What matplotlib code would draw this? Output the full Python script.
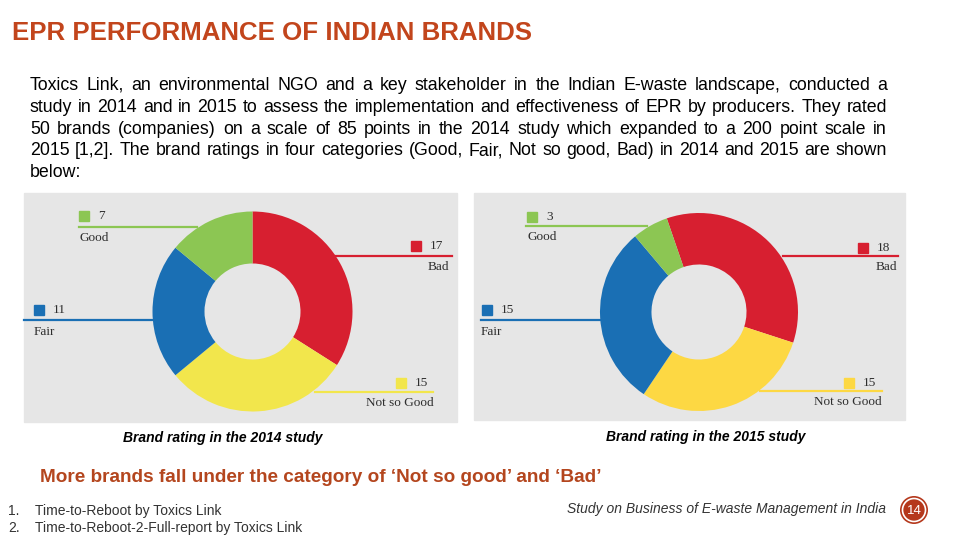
import numpy as np
import matplotlib
matplotlib.use("Agg")
import matplotlib.pyplot as plt
from matplotlib.patches import Rectangle, Circle
from matplotlib.font_manager import FontProperties

# data
categories = ["Bad", "Not so Good", "Fair", "Good"]
ratings_2014 = [17, 15, 11, 7]
ratings_2015 = [18, 15, 15, 3]
colors_2014 = ["#d71f30", "#f2e64c", "#1a6fb4", "#8cc653"]
colors_2015 = ["#d71f30", "#fdd843", "#1a6fb4", "#8cc653"]

title = "EPR PERFORMANCE OF INDIAN BRANDS"
para_lines = [
    "Toxics Link, an environmental NGO and a key stakeholder in the Indian E-waste landscape, conducted a",
    "study in 2014 and in 2015 to assess the implementation and effectiveness of EPR by producers. They rated",
    "50 brands (companies) on a scale of 85 points in the 2014 study which expanded to a 200 point scale in",
    "2015 [1,2]. The brand ratings in four categories (Good, Fair, Not so good, Bad) in 2014 and 2015 are shown",
    "below:",
]
captions = ["Brand rating in the 2014 study", "Brand rating in the 2015 study"]
conclusion = "More brands fall under the category of \u2018Not so good\u2019 and \u2018Bad\u2019"
refs = ["Time-to-Reboot by Toxics Link", "Time-to-Reboot-2-Full-report by Toxics Link"]
footer = "Study on Business of E-waste Management in India"
page_no = "14"

TITLE_C = "#c2451c"
SANS = "Liberation Sans"
SERIF = "Liberation Serif"

fig = plt.figure(figsize=(9.6, 5.4), dpi=100)
fig.patch.set_facecolor("white")
ax = fig.add_axes([0, 0, 1, 1])
ax.set_xlim(0, 960)
ax.set_ylim(540, 0)
ax.axis("off")

ax.text(12, 33.5, title, fontsize=18.6, color=TITLE_C, family=SANS,
        weight="bold", va="center", ha="left")

# justified paragraph
renderer = fig.canvas.get_renderer()
fp = FontProperties(family=SANS, size=12.8)
def width_px(s):
    w, h, d = renderer.get_text_width_height_descent(s, fp, ismath=False)
    return w
x0, x1 = 30, 887
for i, line in enumerate(para_lines):
    y = 85.5 + i * 21.8
    words = line.split(" ")
    if i == len(para_lines) - 1:
        ax.text(x0, y, line, fontproperties=fp, va="center", ha="left")
        continue
    ws = [width_px(w) for w in words]
    gap = (x1 - x0 - sum(ws)) / (len(words) - 1)
    x = x0
    for w, wd in zip(words, ws):
        ax.text(x, y, w, fontproperties=fp, va="center", ha="left")
        x += wd + gap

# grey panels
ax.add_patch(Rectangle((24, 193), 433, 229, color="#e6e6e6", zorder=0))
ax.add_patch(Rectangle((474, 193), 431, 227, color="#e6e6e6", zorder=0))

def donut(cx, cy, r, vals, cols, start):
    a = fig.add_axes([(cx - r) / 960, (540 - cy - r) / 540, 2 * r / 960, 2 * r / 540])
    a.pie(vals, colors=cols, startangle=start, counterclock=False,
          wedgeprops=dict(width=0.52, linewidth=0))
    a.set_xlim(-1, 1)
    a.set_ylim(-1, 1)
    a.axis("off")

donut(252.5, 311.5, 100, ratings_2014, colors_2014, 90)
donut(699, 312, 99, ratings_2015, colors_2015, 109)

# label layout: (square x, square y, line y, line x0, line x1, label x, label y, ha)
layout_2014 = {
    "Good": (79, 211, 226.5, 79, 197, 80, 238, "left"),
    "Bad": (411, 241, 255.5, 335, 452, 449, 267, "right"),
    "Fair": (34, 305, 320, 24, 153, 34, 332, "left"),
    "Not so Good": (396, 378, 391.5, 315, 433, 434, 403, "right"),
}
layout_2015 = {
    "Good": (527, 212, 226, 526, 647, 527, 237, "left"),
    "Bad": (858, 243, 256, 783, 898, 897, 267, "right"),
    "Fair": (482, 305, 320, 481, 600, 481, 332, "left"),
    "Not so Good": (844, 378, 391, 760, 882, 882, 402, "right"),
}

def labels(vals, cols, lay):
    for cat, v, c in zip(categories, vals, cols):
        sx, sy, ly, lx0, lx1, tx, ty, ha = lay[cat]
        ax.add_patch(Rectangle((sx, sy), 10, 10, color=c, zorder=3))
        ax.text(sx + 19, sy + 5, str(v), fontsize=9.5, family=SERIF,
                color="#2e2e2e", va="center", ha="left")
        ax.plot([lx0, lx1], [ly, ly], color=c, lw=1.6, zorder=2)
        ax.text(tx, ty, cat, fontsize=9.5, family=SERIF,
                color="#2e2e2e", va="center", ha=ha)

labels(ratings_2014, colors_2014, layout_2014)
labels(ratings_2015, colors_2015, layout_2015)

ax.text(223, 438, captions[0], fontsize=10, family=SANS, style="italic",
        weight="bold", ha="center", va="center")
ax.text(706, 437, captions[1], fontsize=10, family=SANS, style="italic",
        weight="bold", ha="center", va="center")

ax.text(40, 477, conclusion, fontsize=13.7, color="#b4461e", family=SANS,
        weight="bold", ha="left", va="center")

for i, r in enumerate(refs):
    y = 511 + i * 17
    ax.text(8, y, f"{i + 1}.", fontsize=10, family=SANS, color="#333333",
            va="center", ha="left")
    ax.text(35, y, r, fontsize=10, family=SANS, color="#333333",
            va="center", ha="left")

ax.text(886, 509, footer, fontsize=10, family=SANS, style="italic",
        color="#333333", ha="right", va="center")

ax.add_patch(Circle((914, 510), 14, facecolor="#b5381c", edgecolor="none", zorder=3))
ax.add_patch(Circle((914, 510), 11.5, facecolor="none", edgecolor="white", lw=1.2, zorder=4))
ax.text(914, 510.5, page_no, fontsize=9.5, color="white", family=SANS,
        ha="center", va="center", zorder=5)

fig.savefig("out.png", dpi=100)
